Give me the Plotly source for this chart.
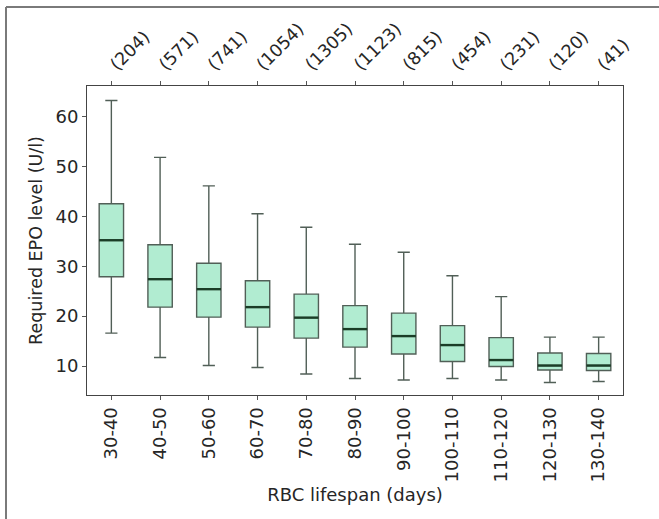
import plotly.graph_objects as go

categories = ["30-40", "40-50", "50-60", "60-70", "70-80", "80-90",
              "90-100", "100-110", "110-120", "120-130", "130-140"]
counts = [204, 571, 741, 1054, 1305, 1123, 815, 454, 231, 120, 41]
upper = [63.2, 51.8, 46.1, 40.5, 37.8, 34.4, 32.8, 28.1, 23.9, 15.8, 15.8]
q3 = [42.5, 34.3, 30.6, 27.1, 24.4, 22.1, 20.6, 18.1, 15.7, 12.6, 12.5]
median = [35.2, 27.4, 25.4, 21.8, 19.7, 17.4, 16.0, 14.2, 11.2, 10.1, 10.1]
q1 = [27.9, 21.8, 19.8, 17.8, 15.6, 13.8, 12.4, 10.9, 9.9, 9.2, 9.1]
lower = [16.6, 11.7, 10.1, 9.7, 8.4, 7.5, 7.2, 7.5, 7.2, 6.7, 6.9]

pos = list(range(len(categories)))
BOX_W = 0.5

FONT = "DejaVu Sans"
TXT = "#262626"

fig = go.Figure()
fig.add_trace(go.Box(
    x=pos, q1=q1, median=median, q3=q3, lowerfence=lower, upperfence=upper,
    width=BOX_W, whiskerwidth=0.5,
    fillcolor="#b1ecd1", line=dict(color="#515f57", width=1.4),
    boxpoints=False, showlegend=False, hoverinfo="skip",
))

mx, my = [], []
for p, m in zip(pos, median):
    mx += [p - BOX_W / 2, p + BOX_W / 2, None]
    my += [m, m, None]
fig.add_trace(go.Scatter(x=mx, y=my, mode="lines",
                         line=dict(color="#1b3d27", width=2.4),
                         showlegend=False, hoverinfo="skip"))
fig.add_trace(go.Scatter(x=pos, y=median, xaxis="x2", mode="markers",
                         marker=dict(opacity=0), showlegend=False,
                         hoverinfo="skip"))

axis_common = dict(range=[-0.5, 10.5], tickmode="array", tickvals=pos,
                   ticks="outside", ticklen=4, tickcolor="#555",
                   showgrid=False, zeroline=False)

fig.update_layout(
    width=659, height=519,
    margin=dict(l=87, r=36, t=86, b=124),
    paper_bgcolor="white", plot_bgcolor="white",
    font=dict(family=FONT, color=TXT),
    xaxis=dict(**axis_common, ticktext=categories, tickangle=-90,
               tickfont=dict(family=FONT, size=18, color=TXT),
               showline=True, linecolor="#444", linewidth=1, mirror=True,
               title=dict(text="RBC lifespan (days)",
                          font=dict(family=FONT, size=18, color=TXT),
                          standoff=6)),
    xaxis2=dict(**axis_common, ticktext=[f"({c})" for c in counts],
                tickangle=-45, overlaying="x", side="top",
                tickfont=dict(family=FONT, size=17.5, color=TXT),
                showline=False),
    yaxis=dict(range=[4.2, 66.1], tickvals=[10, 20, 30, 40, 50, 60],
               ticks="outside", ticklen=4, tickcolor="#555",
               showgrid=False, zeroline=False,
               showline=True, linecolor="#444", linewidth=1, mirror=True,
               tickfont=dict(family=FONT, size=18, color=TXT),
               title=dict(text="Required EPO level (U/l)",
                          font=dict(family=FONT, size=17.5, color=TXT),
                          standoff=8)),
)

# outer image frame (top and left edges)
fx = (6 - 87) / 536
fy = (395 - 7) / 309
fig.add_shape(type="line", xref="paper", yref="paper", x0=fx, x1=1.2,
              y0=fy, y1=fy, line=dict(color="#7a7a7a", width=2))
fig.add_shape(type="line", xref="paper", yref="paper", x0=fx, x1=fx,
              y0=fy, y1=-0.5, line=dict(color="#7a7a7a", width=2))

fig.write_html("out.html")
